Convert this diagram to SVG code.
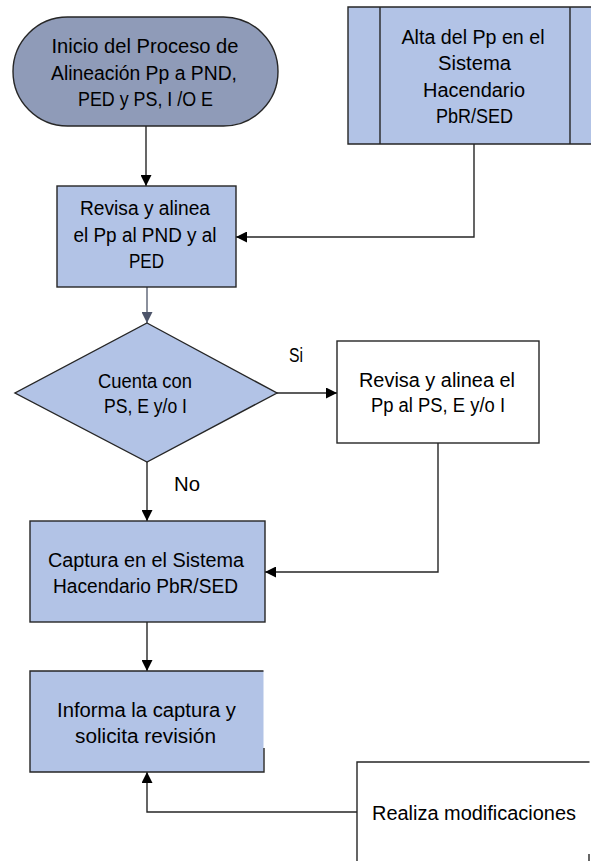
<svg xmlns="http://www.w3.org/2000/svg" width="591" height="861" viewBox="0 0 591 861">
<style>
.bg{fill:#ffffff}
.proc{fill:#b2c3e6;stroke:#262626;stroke-width:1.4}
.term{fill:#8f9bb8;stroke:#262626;stroke-width:1.4}
.plain{fill:#ffffff;stroke:#262626;stroke-width:1.4}
.edge{fill:none;stroke:#262626;stroke-width:1.4}
.gray{fill:none;stroke:#5a6173;stroke-width:1.4}
text{font-family:"Liberation Sans",Arial,sans-serif;font-size:20px;fill:#000000;text-anchor:middle}
.lbl{text-anchor:start}
</style>
<defs>
<marker id="ah" markerWidth="11" markerHeight="11" refX="11" refY="5.5" orient="auto" markerUnits="userSpaceOnUse">
<path d="M0,0 L11,5.5 L0,11 z" fill="#000000"/>
</marker>
<marker id="ahg" markerWidth="11" markerHeight="11" refX="11" refY="5.5" orient="auto" markerUnits="userSpaceOnUse">
<path d="M0,0 L11,5.5 L0,11 z" fill="#4d556a"/>
</marker>
</defs>
<rect class="bg" x="0" y="0" width="591" height="861"/>

<g id="connectors">
<path class="edge" d="M146,126 V186" marker-end="url(#ah)"/>
<path class="edge" d="M474,144 V237 H236" marker-end="url(#ah)"/>
<path class="gray" d="M147,287 V323" marker-end="url(#ahg)"/>
<path class="edge" d="M277,393 H337" marker-end="url(#ah)"/>
<path class="edge" d="M147,462 V521" marker-end="url(#ah)"/>
<path class="edge" d="M438,443 V572 H265" marker-end="url(#ah)"/>
<path class="edge" d="M147,622 V671" marker-end="url(#ah)"/>
<path class="edge" d="M357,812 H147 V772" marker-end="url(#ah)"/>
</g>

<g id="inicio">
<rect class="term" x="13" y="17" width="265" height="109" rx="54.5" ry="54.5"/>
<text x="145" y="53" textLength="187" lengthAdjust="spacingAndGlyphs">Inicio  del Proceso de</text>
<text x="144" y="79.5" textLength="186" lengthAdjust="spacingAndGlyphs">Alineación Pp a PND,</text>
<text x="145.5" y="106" textLength="135" lengthAdjust="spacingAndGlyphs">PED y PS, I /O E</text>
</g>

<g id="alta">
<rect x="348" y="7" width="250" height="137" fill="#b2c3e6"/>
<path class="edge" d="M598,7 H348 V144 H598 M380,7 V144 M570,7 V144"/>
<text x="473" y="43.5" textLength="143" lengthAdjust="spacingAndGlyphs">Alta del Pp en el</text>
<text x="474.5" y="70" textLength="73" lengthAdjust="spacingAndGlyphs">Sistema</text>
<text x="474" y="96.5" textLength="102" lengthAdjust="spacingAndGlyphs">Hacendario</text>
<text x="474.5" y="123" textLength="77" lengthAdjust="spacingAndGlyphs">PbR/SED</text>
</g>

<g id="revisa-pnd">
<rect class="proc" x="57" y="186" width="179" height="101"/>
<text x="145" y="215" textLength="130" lengthAdjust="spacingAndGlyphs">Revisa y alinea</text>
<text x="145" y="241.5" textLength="143" lengthAdjust="spacingAndGlyphs">el Pp al PND y al</text>
<text x="146.5" y="268" textLength="35" lengthAdjust="spacingAndGlyphs">PED</text>
</g>

<g id="decision">
<polygon class="proc" points="147,323 277,393 147,462 15,393"/>
<text x="145" y="387.5" textLength="94" lengthAdjust="spacingAndGlyphs">Cuenta  con</text>
<text x="145.5" y="412.5" textLength="83" lengthAdjust="spacingAndGlyphs">PS, E y/o  I</text>
</g>

<text class="lbl" x="289" y="362" textLength="14" lengthAdjust="spacingAndGlyphs">Si</text>
<text class="lbl" x="174" y="490.5" textLength="26" lengthAdjust="spacingAndGlyphs">No</text>

<g id="revisa-ps">
<rect class="plain" x="337" y="341" width="202" height="102"/>
<text x="437" y="387" textLength="156" lengthAdjust="spacingAndGlyphs">Revisa y alinea  el</text>
<text x="438" y="412" textLength="134" lengthAdjust="spacingAndGlyphs">Pp al PS, E y/o I</text>
</g>

<g id="captura">
<rect class="proc" x="30" y="521" width="235" height="101"/>
<text x="146" y="566.5" textLength="196" lengthAdjust="spacingAndGlyphs">Captura en el Sistema</text>
<text x="145.5" y="592.5" textLength="185" lengthAdjust="spacingAndGlyphs">Hacendario PbR/SED</text>
</g>

<g id="informa">
<rect x="30" y="671" width="233.5" height="101" fill="#b2c3e6"/>
<path class="edge" d="M263.5,671 H30 V772 H264 V748"/>
<text x="146.5" y="716.5" textLength="179" lengthAdjust="spacingAndGlyphs">Informa la captura y</text>
<text x="145.5" y="742.5" textLength="141" lengthAdjust="spacingAndGlyphs">solicita revisión</text>
</g>

<g id="realiza">
<rect x="357" y="762" width="232" height="110" fill="#ffffff"/>
<path class="edge" d="M357,872 V762 H589.5"/>
<path class="edge" d="M589,854 V872"/>
<text class="lbl" x="372" y="820" textLength="204" lengthAdjust="spacingAndGlyphs">Realiza modificaciones</text>
</g>
</svg>
